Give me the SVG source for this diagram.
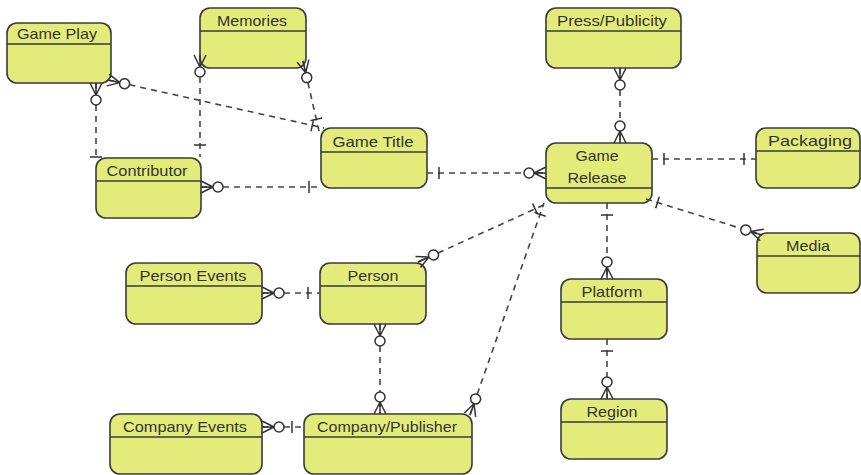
<svg xmlns="http://www.w3.org/2000/svg" width="861" height="475" viewBox="0 0 861 475">
<style>
.box{fill:#e3ec7a;stroke:#3a3a3a;stroke-width:1.6}
.hd{stroke:#3a3a3a;stroke-width:1.6}
.lbl{font-family:"Liberation Sans",Arial,sans-serif;font-size:15px;fill:#333;text-anchor:middle}
.cn{fill:none;stroke:#444;stroke-width:1.6;stroke-dasharray:6 5}
.mk{fill:none;stroke:#333;stroke-width:1.5}
.mc{fill:#fff;stroke:#333;stroke-width:1.5}
</style>
<defs>
<marker id="zm" viewBox="-24 -8 26 16" refX="0" refY="0" markerWidth="26" markerHeight="16" markerUnits="userSpaceOnUse" orient="auto-start-reverse">
<path class="mk" d="M-12,0 L0,-6 M-12,0 L0,0 M-12,0 L0,6"/>
<circle class="mc" cx="-17" cy="0" r="5"/>
</marker>
<marker id="one" viewBox="-16 -8 18 16" refX="0" refY="0" markerWidth="18" markerHeight="16" markerUnits="userSpaceOnUse" orient="auto-start-reverse">
<path class="mk" d="M-12,-6 L-12,6"/>
</marker>
<marker id="one2" viewBox="-16 -8 18 16" refX="0" refY="0" markerWidth="18" markerHeight="16" markerUnits="userSpaceOnUse" orient="auto-start-reverse">
<path class="mk" d="M-3,-6 L-3,6"/>
</marker>
</defs>
<rect width="861" height="475" fill="#fff"/>
<g id="gamePlay"><rect class="box" x="7" y="23" width="104" height="60" rx="10"/><line class="hd" x1="7" y1="44" x2="111" y2="44"/><text class="lbl" x="57" y="39" textLength="80" lengthAdjust="spacingAndGlyphs">Game Play</text></g>
<g id="memories"><rect class="box" x="200" y="8" width="106" height="60" rx="10"/><line class="hd" x1="200" y1="31" x2="306" y2="31"/><text class="lbl" x="252" y="26" textLength="70" lengthAdjust="spacingAndGlyphs">Memories</text></g>
<g id="contributor"><rect class="box" x="96" y="158" width="105" height="60" rx="10"/><line class="hd" x1="96" y1="181" x2="201" y2="181"/><text class="lbl" x="147" y="176" textLength="81" lengthAdjust="spacingAndGlyphs">Contributor</text></g>
<g id="gameTitle"><rect class="box" x="321" y="128" width="106" height="60" rx="10"/><line class="hd" x1="321" y1="152" x2="427" y2="152"/><text class="lbl" x="373" y="147" textLength="81" lengthAdjust="spacingAndGlyphs">Game Title</text></g>
<g id="gameRelease"><rect class="box" x="546" y="143" width="106" height="60" rx="10"/><line class="hd" x1="546" y1="188" x2="652" y2="188"/><text class="lbl" x="597" y="161" textLength="43" lengthAdjust="spacingAndGlyphs">Game</text><text class="lbl" x="597" y="183" textLength="59" lengthAdjust="spacingAndGlyphs">Release</text></g>
<g id="press"><rect class="box" x="546" y="8" width="135" height="60" rx="10"/><line class="hd" x1="546" y1="31" x2="681" y2="31"/><text class="lbl" x="612" y="26" textLength="110" lengthAdjust="spacingAndGlyphs">Press/Publicity</text></g>
<g id="packaging"><rect class="box" x="756" y="128" width="104" height="60" rx="10"/><line class="hd" x1="756" y1="151" x2="860" y2="151"/><text class="lbl" x="810" y="146" textLength="84" lengthAdjust="spacingAndGlyphs">Packaging</text></g>
<g id="media"><rect class="box" x="757" y="233" width="103" height="60" rx="10"/><line class="hd" x1="757" y1="256" x2="860" y2="256"/><text class="lbl" x="808" y="251" textLength="44" lengthAdjust="spacingAndGlyphs">Media</text></g>
<g id="personEvents"><rect class="box" x="126" y="263" width="136" height="61" rx="10"/><line class="hd" x1="126" y1="286" x2="262" y2="286"/><text class="lbl" x="193" y="281" textLength="107" lengthAdjust="spacingAndGlyphs">Person Events</text></g>
<g id="person"><rect class="box" x="320" y="263" width="106" height="61" rx="10"/><line class="hd" x1="320" y1="286" x2="426" y2="286"/><text class="lbl" x="373" y="281" textLength="51" lengthAdjust="spacingAndGlyphs">Person</text></g>
<g id="companyEvents"><rect class="box" x="110" y="414" width="152" height="60" rx="10"/><line class="hd" x1="110" y1="437" x2="262" y2="437"/><text class="lbl" x="185" y="432" textLength="124" lengthAdjust="spacingAndGlyphs">Company Events</text></g>
<g id="companyPublisher"><rect class="box" x="304" y="414" width="168" height="60" rx="10"/><line class="hd" x1="304" y1="437" x2="472" y2="437"/><text class="lbl" x="387" y="432" textLength="140" lengthAdjust="spacingAndGlyphs">Company/Publisher</text></g>
<g id="platform"><rect class="box" x="561" y="279" width="106" height="60" rx="10"/><line class="hd" x1="561" y1="302" x2="667" y2="302"/><text class="lbl" x="612" y="297" textLength="61" lengthAdjust="spacingAndGlyphs">Platform</text></g>
<g id="region"><rect class="box" x="561" y="399" width="106" height="60" rx="10"/><line class="hd" x1="561" y1="422" x2="667" y2="422"/><text class="lbl" x="612" y="417" textLength="51" lengthAdjust="spacingAndGlyphs">Region</text></g>
<g id="connectors">
<path class="cn" d="M108,80 L324,128" marker-start="url(#zm)" marker-end="url(#one)"/>
<path class="cn" d="M96,83 L96,160" marker-start="url(#zm)" marker-end="url(#one2)"/>
<path class="cn" d="M200,55 L200,157" marker-start="url(#zm)" marker-end="url(#one)"/>
<path class="cn" d="M303,61 L319,131" marker-start="url(#zm)" marker-end="url(#one)"/>
<path class="cn" d="M201,187 L321,187" marker-start="url(#zm)" marker-end="url(#one)"/>
<path class="cn" d="M427,173 L546,173" marker-start="url(#one)" marker-end="url(#zm)"/>
<path class="cn" d="M620,68 L620,143" marker-start="url(#zm)" marker-end="url(#zm)"/>
<path class="cn" d="M652,159 L756,159" marker-start="url(#one)" marker-end="url(#one)"/>
<path class="cn" d="M646,199 L762,235" marker-start="url(#one)" marker-end="url(#zm)"/>
<path class="cn" d="M607,203 L607,279" marker-start="url(#one)" marker-end="url(#zm)"/>
<path class="cn" d="M607,339 L607,399" marker-start="url(#one)" marker-end="url(#zm)"/>
<path class="cn" d="M418,262 L546,204" marker-start="url(#zm)" marker-end="url(#one)"/>
<path class="cn" d="M470,415 L544,203" marker-start="url(#zm)" marker-end="url(#one)"/>
<path class="cn" d="M262,293 L320,293" marker-start="url(#zm)" marker-end="url(#one)"/>
<path class="cn" d="M380,324 L380,414" marker-start="url(#zm)" marker-end="url(#zm)"/>
<path class="cn" d="M262,427 L304,427" marker-start="url(#zm)" marker-end="url(#one)"/>
</g>
</svg>
